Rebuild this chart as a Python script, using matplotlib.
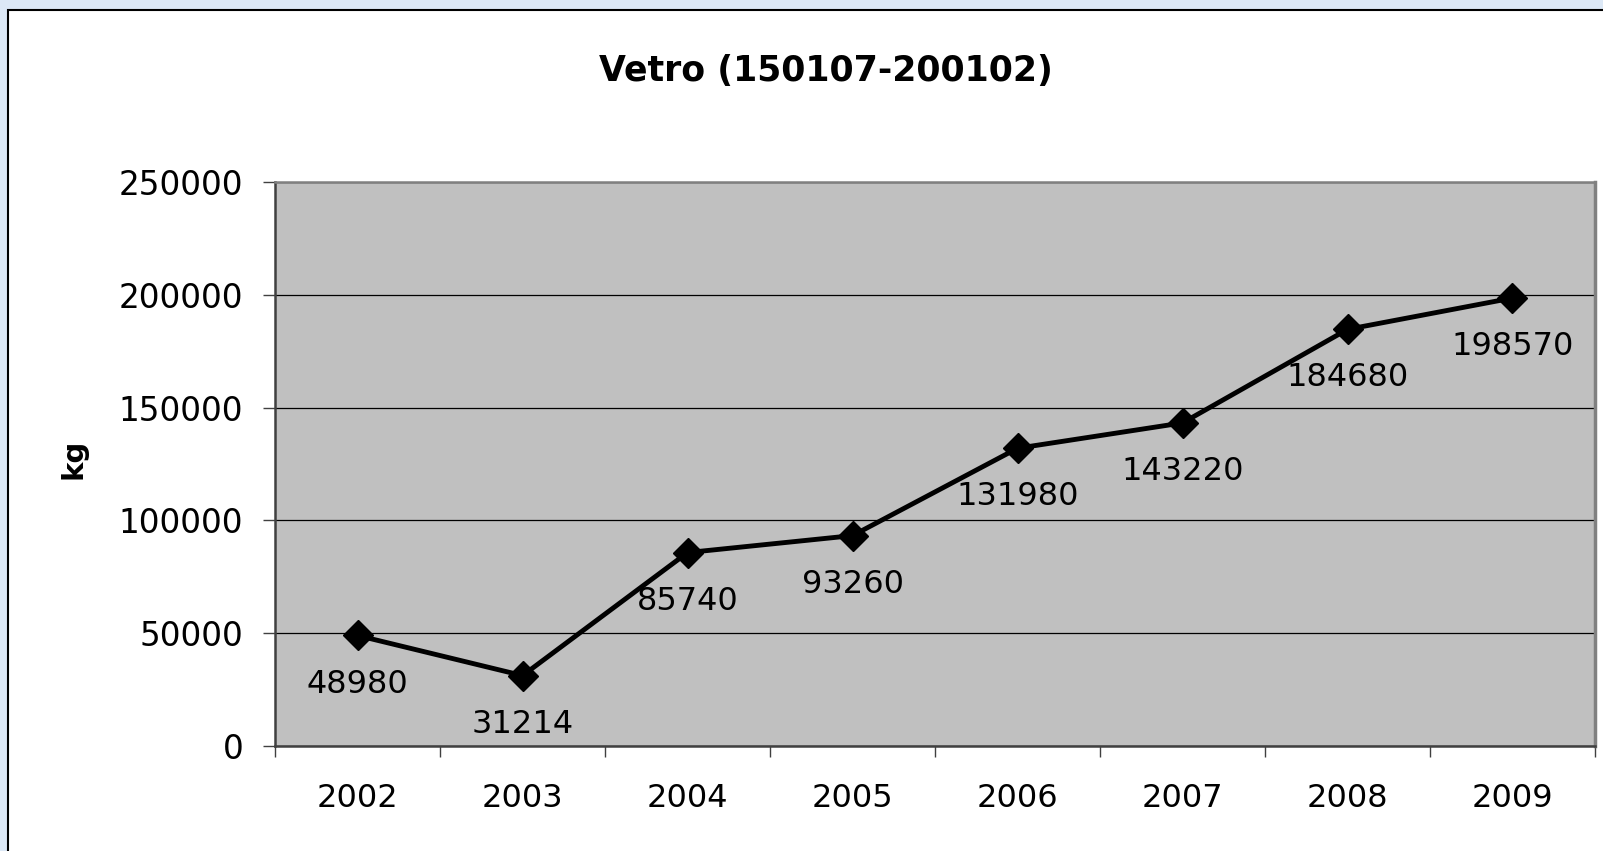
import matplotlib.pyplot as plt
from matplotlib.patches import Rectangle

years = ['2002', '2003', '2004', '2005', '2006', '2007', '2008', '2009']
kg_values = [48980, 31214, 85740, 93260, 131980, 143220, 184680, 198570]
y_ticks = [0, 50000, 100000, 150000, 200000, 250000]

fig = plt.figure(figsize=(16.03, 8.51), dpi=100, facecolor='#dce8f6')

# white chart box with black frame over the light blue slide background
box = Rectangle((0.0053, -0.05), 1.1, 1.0377, transform=fig.transFigure,
                facecolor='white', edgecolor='black', linewidth=1.5,
                clip_on=False, zorder=-10)
fig.patches.append(box)

ax = fig.add_axes([0.1716, 0.1234, 0.8234, 0.6627])
ax.set_zorder(1)
ax.set_facecolor('#c0c0c0')

x = list(range(len(years)))
ax.plot(x, kg_values, color='black', linewidth=3.5, marker='D',
        markersize=15, markerfacecolor='black', markeredgecolor='black',
        zorder=3)

# value labels under each point
for xi, v in zip(x, kg_values):
    ax.annotate(str(v), (xi, v), xytext=(0, -35), textcoords='offset points',
                ha='center', va='center', fontsize=23)

ax.set_xlim(-0.5, len(years) - 0.5)
ax.set_ylim(0, 250000)

# tick marks on category boundaries, labels in the middle
ax.set_xticks([i - 0.5 for i in range(len(years) + 1)])
ax.set_xticklabels([])
ax.set_xticks(x, minor=True)
ax.set_xticklabels(years, minor=True, fontsize=23)
ax.tick_params(axis='x', which='major', length=8, width=1, color='#404040')
ax.tick_params(axis='x', which='minor', length=0, pad=27)

ax.set_yticks(y_ticks)
ax.set_yticklabels([str(t) for t in y_ticks], fontsize=23.5)
ax.tick_params(axis='y', length=9, width=1, color='#404040', pad=14)

ax.yaxis.grid(True, color='black', linewidth=0.9)
ax.set_axisbelow(True)

ax.spines['left'].set_color('#404040')
ax.spines['left'].set_linewidth(1.8)
ax.spines['bottom'].set_color('#404040')
ax.spines['bottom'].set_linewidth(1.8)
ax.spines['top'].set_color('#808080')
ax.spines['top'].set_linewidth(1.8)
ax.spines['right'].set_color('#808080')
ax.spines['right'].set_linewidth(2.5)

fig.text(826 / 1603, 1 - 71 / 851, 'Vetro (150107-200102)', ha='center',
         va='center', fontsize=25, fontweight='bold')
fig.text(73 / 1603, 1 - 459 / 851, 'kg', ha='center', va='center',
         rotation=90, fontsize=21, fontweight='bold')

fig.savefig('out.png', dpi=100, facecolor=fig.get_facecolor())
